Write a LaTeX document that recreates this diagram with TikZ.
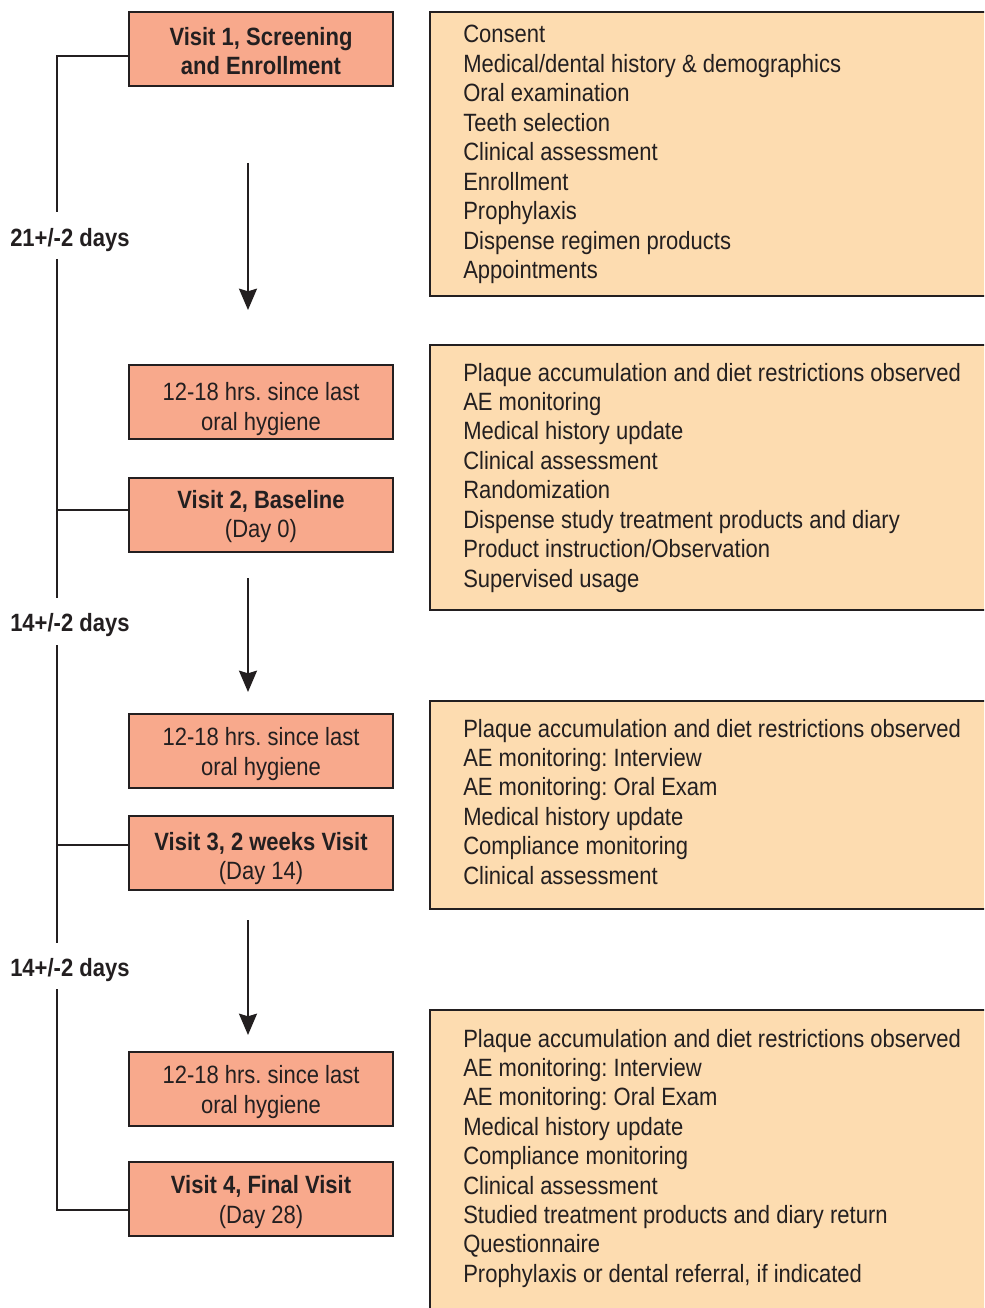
\documentclass[tikz,border=0pt]{standalone}
\usepackage{fontspec}
\setmainfont{Liberation Sans}[FakeStretch=0.88]
\usetikzlibrary{arrows.meta}
\definecolor{salmon}{HTML}{F8A98C}
\definecolor{peach}{HTML}{FDDCB0}
\definecolor{ink}{HTML}{231F20}
\frenchspacing
\begin{document}
\begin{tikzpicture}[x=0.75pt,y=-0.75pt,
  visit/.style={draw=ink, fill=salmon, line width=1.8pt, minimum width=198pt, minimum height=55.5pt, inner sep=0pt},
  info/.style={draw=ink, fill=peach, line width=1.8pt, anchor=north west, minimum width=430pt, inner sep=0pt},
  txt/.style={font=\fontsize{18.75pt}{22pt}\selectfont, text=ink, inner sep=0pt},
  btxt/.style={font=\fontsize{18.75pt}{22pt}\selectfont\bfseries, text=ink, inner sep=0pt},
  tl/.style={draw=ink, line width=1.7pt, line join=miter},
  arr/.style={draw=ink, line width=1.7pt, -{Stealth[length=16pt,width=13.5pt,inset=2pt]}}]
\useasboundingbox (0,0) rectangle (984,1308);
\clip (0,0) rectangle (984,1308);

% right info boxes
\node[info, minimum height=213pt] (r1) at (429,11) {};
\node[info, minimum height=198.75pt] (r2) at (429,344) {};
\node[info, minimum height=156pt] (r3) at (429,700) {};
\node[info, minimum height=240pt] (r4) at (429,1009) {};

\foreach \t [count=\i] in {Consent, Medical/dental history \& demographics, Oral examination, Teeth selection, Clinical assessment, Enrollment, Prophylaxis, Dispense regimen products, Appointments}
  \node[txt, anchor=base west] (r1l\i) at (463, {43+(\i-1)*29.5}) {\t};
\foreach \t [count=\i] in {Plaque accumulation and diet restrictions observed, AE monitoring, Medical history update, Clinical assessment, Randomization, Dispense study treatment products and diary, Product instruction/Observation, Supervised usage}
  \node[txt, anchor=base west] (r2l\i) at (463, {381+(\i-1)*29.45}) {\t};
\foreach \t [count=\i] in {Plaque accumulation and diet restrictions observed, AE monitoring: Interview, AE monitoring: Oral Exam, Medical history update, Compliance monitoring, Clinical assessment}
  \node[txt, anchor=base west] (r3l\i) at (463, {737+(\i-1)*29.45}) {\t};
\foreach \t [count=\i] in {Plaque accumulation and diet restrictions observed, AE monitoring: Interview, AE monitoring: Oral Exam, Medical history update, Compliance monitoring, Clinical assessment, Studied treatment products and diary return, Questionnaire, {Prophylaxis or dental referral, if indicated}}
  \node[txt, anchor=base west] (r4l\i) at (463, {1047+(\i-1)*29.4}) {\t};

% left boxes
\node[visit] (v1) at (261,49) {};
\node[btxt, anchor=base] (v1a) at (261,45.5) {Visit 1, Screening};
\node[btxt, anchor=base] (v1b) at (261,74.5) {and Enrollment};

\node[visit] (h1) at (261,402) {};
\node[txt, anchor=base] (h1a) at (261,400) {12-18 hrs. since last};
\node[txt, anchor=base] (h1b) at (261,430) {oral hygiene};

\node[visit] (v2) at (261,515) {};
\node[btxt, anchor=base] (v2a) at (261,508) {Visit 2, Baseline};
\node[txt, anchor=base] (v2b) at (261,537) {(Day 0)};

\node[visit] (h2) at (261,751) {};
\node[txt, anchor=base] (h2a) at (261,745) {12-18 hrs. since last};
\node[txt, anchor=base] (h2b) at (261,775) {oral hygiene};

\node[visit] (v3) at (261,853) {};
\node[btxt, anchor=base] (v3a) at (261,850) {Visit 3, 2 weeks Visit};
\node[txt, anchor=base] (v3b) at (261,879) {(Day 14)};

\node[visit] (h3) at (261,1089) {};
\node[txt, anchor=base] (h3a) at (261,1083) {12-18 hrs. since last};
\node[txt, anchor=base] (h3b) at (261,1113) {oral hygiene};

\node[visit] (v4) at (261,1199) {};
\node[btxt, anchor=base] (v4a) at (261,1193.5) {Visit 4, Final Visit};
\node[txt, anchor=base] (v4b) at (261,1223) {(Day 28)};

% interval labels
\node[btxt, anchor=base west] (d1) at (10,247) {21+/-2 days};
\node[btxt, anchor=base west] (d2) at (10,631) {14+/-2 days};
\node[btxt, anchor=base west] (d3) at (10,976) {14+/-2 days};

% timeline
\coordinate (t0) at (57,56);
\coordinate (t1) at (57,212);
\coordinate (t2) at (57,259);
\coordinate (c2) at (57,510);
\coordinate (t3) at (57,598);
\coordinate (t4) at (57,645);
\coordinate (c3) at (57,845);
\coordinate (t5) at (57,943);
\coordinate (t6) at (57,989);
\coordinate (c4) at (57,1210);
\draw[tl] (t0 -| v1.west) -- (t0) -- (t1);
\draw[tl] (t2) -- (t3);
\draw[tl] (c2) -- (c2 -| v2.west);
\draw[tl] (t4) -- (t5);
\draw[tl] (c3) -- (c3 -| v3.west);
\draw[tl] (t6) -- (c4) -- (c4 -| v4.west);

% arrows
\coordinate (a1s) at (248,163);
\coordinate (a1e) at (248,310);
\coordinate (a2s) at (248,578);
\coordinate (a2e) at (248,692);
\coordinate (a3s) at (248,920);
\coordinate (a3e) at (248,1035);
\draw[arr] (a1s) -- (a1e);
\draw[arr] (a2s) -- (a2e);
\draw[arr] (a3s) -- (a3e);
\end{tikzpicture}
\end{document}
